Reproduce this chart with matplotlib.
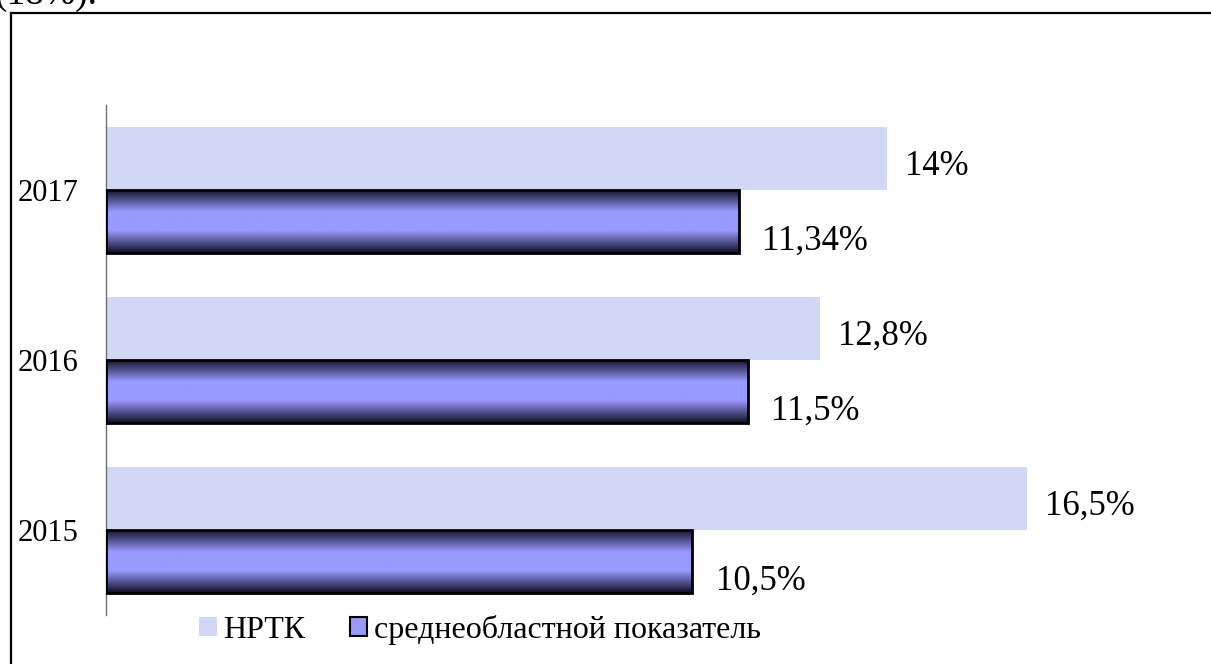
import numpy as np
import matplotlib.pyplot as plt
from matplotlib.lines import Line2D
from matplotlib.patches import Patch
from matplotlib.colors import LinearSegmentedColormap

years = ["2015", "2016", "2017"]
nrtk = [16.5, 12.8, 14.0]
region = [10.5, 11.5, 11.34]
nrtk_labels = ["16,5%", "12,8%", "14%"]
region_labels = ["10,5%", "11,5%", "11,34%"]
series_names = ["НРТК", "среднеобластной показатель"]

plt.rcParams["font.family"] = ["Liberation Serif", "DejaVu Serif"]

W, H = 1211, 664
fig = plt.figure(figsize=(W / 100, H / 100), dpi=100)
ax = fig.add_axes([106 / W, 1 - 615 / H, (1150 - 106) / W, (615 - 105) / H])

y = np.arange(len(years))
h = 0.373
nrtk_color = "#d0d8f6"

b1 = ax.barh(y + h / 2, nrtk, height=h, color=nrtk_color, linewidth=0)
b2 = ax.barh(y - h / 2, region, height=h, color="#9999ff",
             edgecolor="black", linewidth=2)

# gradient fill for the regional bars
cmap = LinearSegmentedColormap.from_list(
    "g", [(0, "#101028"), (0.35, "#9999ff"), (0.65, "#9999ff"), (1, "#101028")])
grad = np.linspace(0, 1, 100).reshape(-1, 1)
for bar in b2:
    x0, y0 = bar.get_x(), bar.get_y()
    im = ax.imshow(grad, extent=[x0, x0 + bar.get_width(), y0, y0 + bar.get_height()],
                   aspect="auto", cmap=cmap, origin="lower", zorder=2)
    im.set_clip_path(bar)
    bar.set_facecolor("none")
    bar.set_zorder(3)

ax.set_xlim(0, (1150 - 106) / 55.8)
ax.set_ylim(-0.5, 2.5)

for bar, lab in zip(b1, nrtk_labels):
    ax.annotate(lab, (bar.get_width(), bar.get_y() + bar.get_height() / 2),
                xytext=(13, -6), textcoords="offset points",
                ha="left", va="center", fontsize=25)
for bar, lab in zip(b2, region_labels):
    ax.annotate(lab, (bar.get_width(), bar.get_y() + bar.get_height() / 2),
                xytext=(17, -14), textcoords="offset points",
                ha="left", va="center", fontsize=25)

ax.set_yticks(y)
ax.set_yticklabels(years, fontsize=22)
ax.tick_params(axis="y", length=0, pad=20)
ax.set_xticks([])
for s in ["top", "right", "bottom"]:
    ax.spines[s].set_visible(False)
ax.spines["left"].set_color("#707070")
ax.spines["left"].set_linewidth(1)

handles = [Patch(facecolor=nrtk_color, edgecolor="none"),
           Patch(facecolor="#9999ff", edgecolor="black", linewidth=1.5)]
fig.legend(handles, series_names, loc="center", bbox_to_anchor=(480 / W, 1 - 630 / H),
           ncol=2, frameon=False, fontsize=23, handlelength=0.55, handleheight=0.55,
           handletextpad=0.2, columnspacing=1.4, borderpad=0, borderaxespad=0)

# outer frame
fig.add_artist(Line2D([11 / W, 11 / W], [0, 1 - 13 / H], color="black", lw=1.6))
fig.add_artist(Line2D([11 / W, 1], [1 - 13 / H, 1 - 13 / H], color="black", lw=1.6))

# cut-off text from the page above
fig.text(-6 / W, 1 - 4 / H, "(18%).", fontsize=27, ha="left", va="baseline")

fig.savefig("out.png", dpi=100)
